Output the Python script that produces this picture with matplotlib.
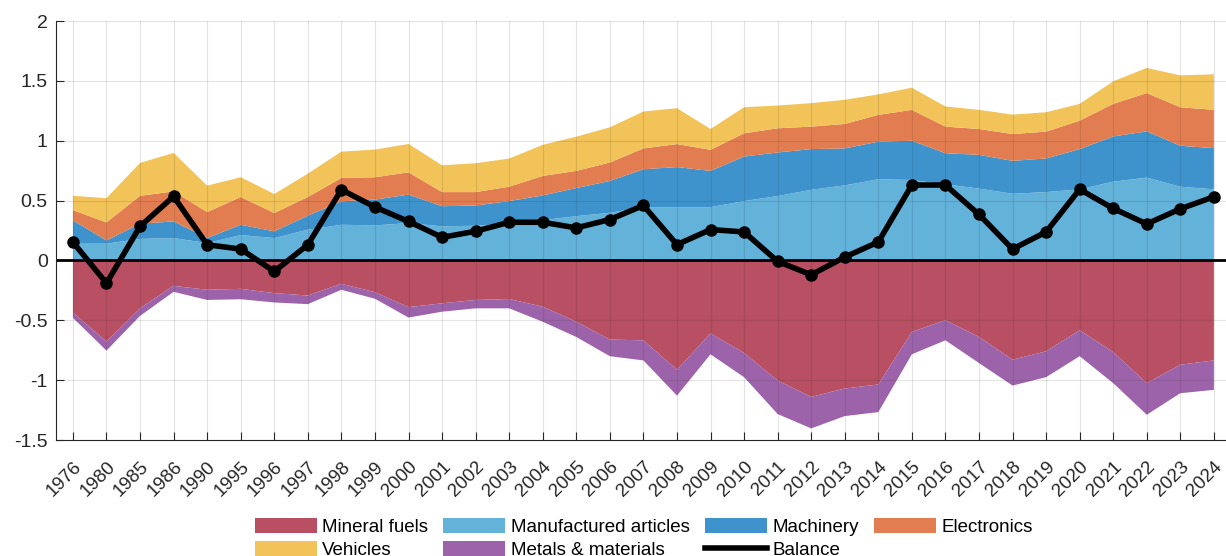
import matplotlib.pyplot as plt
import matplotlib.transforms as mtransforms
from matplotlib.lines import Line2D
import numpy as np

plt.rcParams['font.family'] = ['Liberation Sans', 'DejaVu Sans']

# Years on the x axis (categorical)
years = ['1976', '1980', '1985', '1986', '1990', '1995', '1996', '1997', '1998', '1999',
         '2000', '2001', '2002', '2003', '2004', '2005', '2006', '2007', '2008', '2009',
         '2010', '2011', '2012', '2013', '2014', '2015', '2016', '2017', '2018', '2019',
         '2020', '2021', '2022', '2023', '2024']

# Positive components (stacked upwards)
manufactured = [0.14, 0.14, 0.18, 0.187, 0.145, 0.212, 0.187, 0.257, 0.298, 0.293,
                0.312, 0.285, 0.29, 0.308, 0.336, 0.37, 0.398, 0.445, 0.445, 0.445,
                0.496, 0.538, 0.59, 0.627, 0.678, 0.672, 0.636, 0.6, 0.557, 0.571,
                0.594, 0.658, 0.692, 0.616, 0.594]
machinery = [0.195, 0.027, 0.127, 0.139, 0.042, 0.086, 0.056, 0.117, 0.196, 0.215,
             0.238, 0.168, 0.169, 0.188, 0.207, 0.235, 0.266, 0.317, 0.335, 0.303,
             0.372, 0.364, 0.34, 0.309, 0.314, 0.328, 0.26, 0.282, 0.275, 0.281,
             0.336, 0.378, 0.386, 0.342, 0.344]
electronics = [0.085, 0.151, 0.233, 0.251, 0.217, 0.232, 0.153, 0.156, 0.195, 0.187,
               0.186, 0.118, 0.112, 0.12, 0.163, 0.143, 0.154, 0.174, 0.192, 0.176,
               0.194, 0.202, 0.188, 0.204, 0.224, 0.258, 0.222, 0.216, 0.224, 0.224,
               0.238, 0.272, 0.32, 0.322, 0.32]
vehicles = [0.12, 0.202, 0.275, 0.321, 0.221, 0.165, 0.159, 0.195, 0.22, 0.231,
            0.237, 0.224, 0.241, 0.235, 0.26, 0.286, 0.294, 0.308, 0.30, 0.174,
            0.218, 0.19, 0.196, 0.202, 0.171, 0.185, 0.168, 0.16, 0.162, 0.162,
            0.14, 0.188, 0.21, 0.266, 0.297]

# Negative components (stacked downwards)
mineral_fuels = [-0.435, -0.678, -0.40, -0.212, -0.245, -0.237, -0.273, -0.293, -0.195, -0.265,
                 -0.39, -0.358, -0.33, -0.322, -0.386, -0.512, -0.661, -0.667, -0.913, -0.61,
                 -0.773, -1.003, -1.14, -1.07, -1.036, -0.597, -0.499, -0.639, -0.829, -0.759,
                 -0.583, -0.765, -1.025, -0.871, -0.835]
metals = [-0.045, -0.075, -0.063, -0.05, -0.085, -0.087, -0.078, -0.072, -0.05, -0.055,
          -0.087, -0.07, -0.07, -0.078, -0.126, -0.127, -0.139, -0.168, -0.216, -0.174,
          -0.202, -0.28, -0.263, -0.23, -0.231, -0.187, -0.168, -0.218, -0.216, -0.216,
          -0.217, -0.26, -0.264, -0.238, -0.246]

balance = [0.153, -0.19, 0.285, 0.535, 0.131, 0.095, -0.092, 0.131, 0.591, 0.446,
           0.326, 0.193, 0.244, 0.319, 0.319, 0.272, 0.342, 0.459, 0.132, 0.258,
           0.238, -0.008, -0.12, 0.028, 0.154, 0.63, 0.63, 0.384, 0.095, 0.238,
           0.594, 0.434, 0.305, 0.431, 0.532]

c_mineral = '#b84f62'
c_manuf = '#63b2d9'
c_mach = '#3e93cc'
c_elec = '#e27d51'
c_veh = '#f1c358'
c_metal = '#9d63aa'

x = np.arange(1, len(years) + 1)

fig = plt.figure(figsize=(12.26, 5.56), dpi=100)
ax = fig.add_axes([0.0458, 0.2086, 0.958, 0.7536])

pos = ax.stackplot(x, manufactured, machinery, electronics, vehicles,
                   colors=[c_manuf, c_mach, c_elec, c_veh], linewidth=0, zorder=2)
neg = ax.stackplot(x, mineral_fuels, metals,
                   colors=[c_mineral, c_metal], linewidth=0, zorder=2)

ax.axhline(0, color='black', linewidth=2, zorder=3)
ax.plot(x, balance, color='black', linewidth=4, marker='o', markersize=8, zorder=4)

ax.set_xlim(0.5, 35.5)
ax.set_ylim(-1.5, 2)
ax.set_yticks(np.arange(-1.5, 2.01, 0.5))
ax.set_yticklabels(['-1.5', '-1', '-0.5', '0', '0.5', '1', '1.5', '2'])
ax.set_xticks(x)
ax.set_xticklabels(years, rotation=45, ha='right', va='top')
ax.tick_params(direction='in', length=6, width=0.8, colors='#262626', labelsize=14, pad=6)
ax.tick_params(axis='x', labelsize=13.5, pad=13)

# nudge the rotated year labels to the right like the original
shift = mtransforms.ScaledTranslation(12 / 100, 0, fig.dpi_scale_trans)
for lbl in ax.get_xticklabels():
    lbl.set_transform(lbl.get_transform() + shift)

ax.grid(True, color='#262626', alpha=0.12, linewidth=0.8)
ax.set_axisbelow(False)
for s in ['top', 'right']:
    ax.spines[s].set_visible(False)
for s in ['left', 'bottom']:
    ax.spines[s].set_color('#262626')
    ax.spines[s].set_linewidth(0.8)
    ax.spines[s].set_zorder(5)

bal_h = Line2D([0], [0], color='black', linewidth=4)
handles = [neg[0], pos[3], pos[0], neg[1], pos[1], bal_h, pos[2]]
labels = ['Mineral fuels', 'Vehicles', 'Manufactured articles', 'Metals & materials',
          'Machinery', 'Balance', 'Electronics']
fig.legend(handles, labels, ncol=4, loc='center', bbox_to_anchor=(0.525, 0.032),
           frameon=False, fontsize=13.5, handlelength=3.3, handleheight=0.9,
           columnspacing=0.8, handletextpad=0.3, labelspacing=0.25,
           borderpad=0.1)

fig.savefig('out.png', dpi=100)
